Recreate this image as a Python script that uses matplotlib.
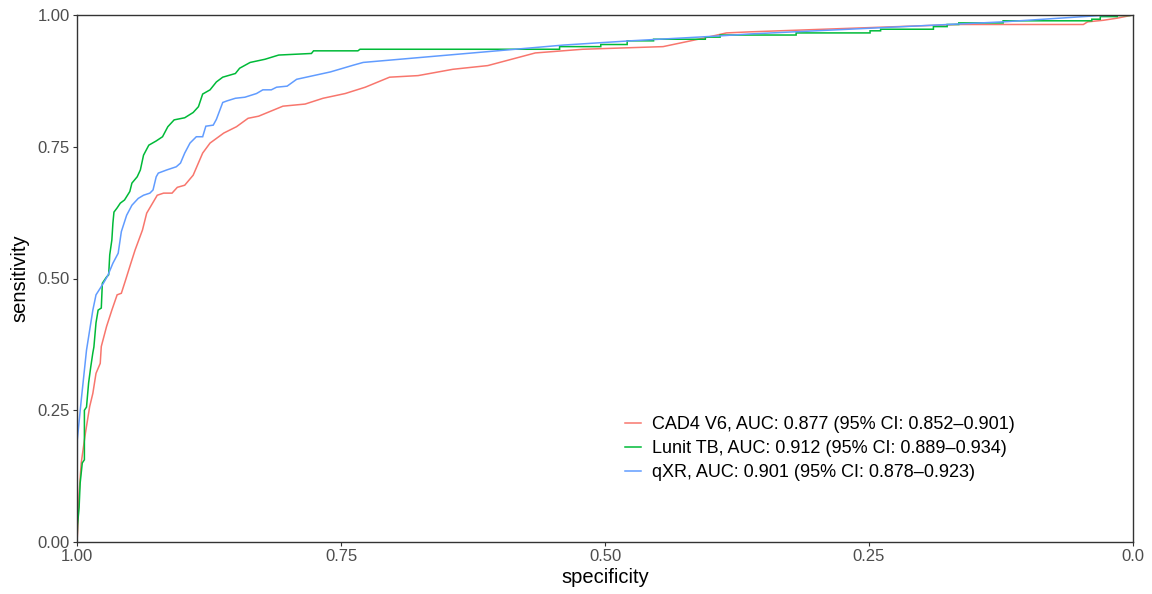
import matplotlib
matplotlib.use('Agg')
import matplotlib.pyplot as plt

plt.rcParams['font.family'] = ['Liberation Sans', 'DejaVu Sans']

# ROC curves (specificity, sensitivity)
cad4_spec = [1.000, 0.9995, 0.998, 0.996, 0.992, 0.988, 0.985, 0.982, 0.978, 0.977, 0.972, 0.967,
             0.962, 0.958, 0.954, 0.949, 0.945, 0.938, 0.934, 0.924, 0.918, 0.910, 0.905, 0.898,
             0.890, 0.881, 0.874, 0.861, 0.849, 0.838, 0.828, 0.805, 0.784, 0.767, 0.746, 0.727,
             0.704, 0.677, 0.644, 0.611, 0.566, 0.521, 0.445, 0.407, 0.385, 0.363, 0.166, 0.047,
             0.043, 0.028, 0.015, 0.000]
cad4_sens = [0.000, 0.017, 0.093, 0.150, 0.207, 0.257, 0.282, 0.320, 0.339, 0.371, 0.409, 0.440,
             0.469, 0.472, 0.497, 0.529, 0.554, 0.592, 0.624, 0.658, 0.662, 0.662, 0.673, 0.677,
             0.696, 0.738, 0.757, 0.776, 0.788, 0.804, 0.808, 0.827, 0.831, 0.842, 0.851, 0.863,
             0.882, 0.885, 0.897, 0.904, 0.928, 0.935, 0.940, 0.956, 0.966, 0.968, 0.982, 0.982,
             0.987, 0.990, 0.994, 1.000]

lunit_spec = [1.000, 0.9995, 0.998, 0.997, 0.995, 0.993, 0.993, 0.991, 0.989, 0.987, 0.985, 0.984,
              0.982, 0.980, 0.977, 0.976, 0.972, 0.970, 0.969, 0.967, 0.966, 0.965, 0.962, 0.959,
              0.955, 0.950, 0.948, 0.943, 0.940, 0.937, 0.932, 0.925, 0.919, 0.914, 0.908, 0.898,
              0.890, 0.885, 0.881, 0.874, 0.868, 0.862, 0.850, 0.846, 0.836, 0.822, 0.809, 0.778,
              0.776, 0.734, 0.732, 0.543, 0.543, 0.504, 0.504, 0.479, 0.479, 0.454, 0.454, 0.405,
              0.405, 0.391, 0.391, 0.319, 0.319, 0.249, 0.249, 0.239, 0.239, 0.189, 0.189, 0.176,
              0.176, 0.165, 0.165, 0.123, 0.123, 0.039, 0.039, 0.031, 0.031, 0.015, 0.015, 0.003,
              0.000]
lunit_sens = [0.000, 0.032, 0.066, 0.112, 0.150, 0.156, 0.250, 0.256, 0.302, 0.332, 0.359, 0.370,
              0.416, 0.440, 0.444, 0.491, 0.503, 0.507, 0.545, 0.573, 0.605, 0.626, 0.634, 0.643,
              0.649, 0.665, 0.681, 0.693, 0.706, 0.734, 0.753, 0.761, 0.769, 0.788, 0.801, 0.805,
              0.815, 0.826, 0.850, 0.858, 0.873, 0.882, 0.889, 0.899, 0.910, 0.916, 0.924, 0.927,
              0.932, 0.932, 0.935, 0.935, 0.940, 0.940, 0.944, 0.944, 0.951, 0.951, 0.954, 0.954,
              0.958, 0.958, 0.962, 0.962, 0.966, 0.966, 0.970, 0.970, 0.973, 0.973, 0.978, 0.978,
              0.982, 0.982, 0.985, 0.985, 0.989, 0.989, 0.992, 0.992, 0.997, 0.997, 0.999, 0.999,
              1.000]

qxr_spec = [1.000, 0.9997, 0.996, 0.991, 0.985, 0.982, 0.975, 0.971, 0.966, 0.961, 0.958, 0.953,
            0.948, 0.942, 0.937, 0.931, 0.928, 0.925, 0.923, 0.915, 0.906, 0.902, 0.898, 0.893,
            0.887, 0.881, 0.878, 0.871, 0.868, 0.862, 0.858, 0.850, 0.841, 0.830, 0.824, 0.816,
            0.811, 0.801, 0.792, 0.760, 0.738, 0.729, 0.539, 0.476, 0.394, 0.363, 0.123, 0.031,
            0.000]
qxr_sens = [0.000, 0.194, 0.269, 0.364, 0.440, 0.469, 0.491, 0.505, 0.529, 0.548, 0.589, 0.620,
            0.639, 0.652, 0.658, 0.662, 0.668, 0.693, 0.700, 0.706, 0.712, 0.719, 0.738, 0.757,
            0.769, 0.769, 0.789, 0.791, 0.802, 0.834, 0.837, 0.842, 0.844, 0.851, 0.858, 0.858,
            0.863, 0.865, 0.878, 0.892, 0.905, 0.910, 0.943, 0.951, 0.960, 0.964, 0.987, 0.999,
            1.000]

labels = ['CAD4 V6, AUC: 0.877 (95% CI: 0.852\u20130.901)',
          'Lunit TB, AUC: 0.912 (95% CI: 0.889\u20130.934)',
          'qXR, AUC: 0.901 (95% CI: 0.878\u20130.923)']
colors = ['#F8766D', '#00BA38', '#619CFF']

tick_vals = [1.0, 0.75, 0.5, 0.25, 0.0]
xtick_labels = ['1.00', '0.75', '0.50', '0.25', '0.0']
ytick_labels = ['1.00', '0.75', '0.50', '0.25', '0.00']

fig = plt.figure(figsize=(11.52, 5.94), dpi=100)
ax = fig.add_axes([77 / 1152, 1 - 542 / 594, (1133 - 77) / 1152, (542 - 15) / 594])

curves = [(cad4_spec, cad4_sens), (lunit_spec, lunit_sens), (qxr_spec, qxr_sens)]
for (sp, se), lab, col in zip(curves, labels, colors):
    ax.plot(sp, se, color=col, linewidth=1.1, label=lab, solid_joinstyle='miter')

ax.set_xlim(1.0, 0.0)
ax.set_ylim(0.0, 1.0)
ax.set_xticks(tick_vals)
ax.set_xticklabels(xtick_labels)
ax.set_yticks(tick_vals)
ax.set_yticklabels(ytick_labels)
ax.tick_params(direction='out', length=3, width=0.8, color='#333333',
               labelcolor='#4D4D4D', labelsize=12, pad=2)
for s in ax.spines.values():
    s.set_color('#333333')
    s.set_linewidth(1.0)

ax.set_xlabel('specificity', fontsize=14.5, labelpad=3)
ax.set_ylabel('sensitivity', fontsize=14.5, labelpad=6)

ax.legend(loc='upper left', bbox_to_anchor=((618 - 77) / 1056, (542 - 409) / 527),
          frameon=False, fontsize=13, handlelength=0.85, handletextpad=0.66,
          labelspacing=0.38, borderaxespad=0)

fig.savefig('out.png', dpi=100)
